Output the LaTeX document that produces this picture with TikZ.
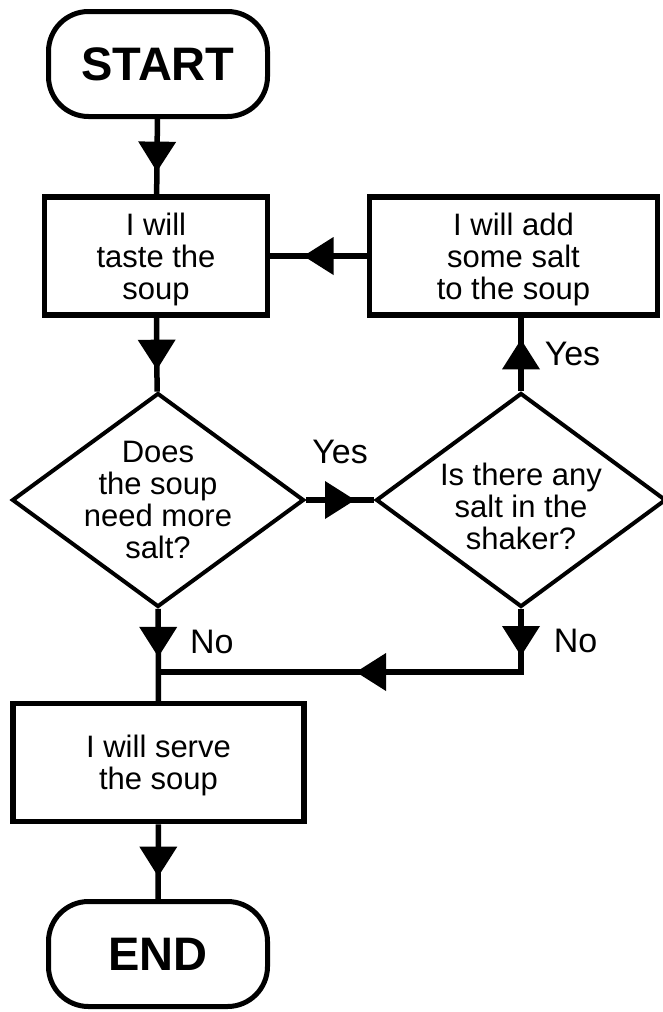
\documentclass[tikz,border=0pt]{standalone}
\usepackage{fontspec}
\setmainfont{Liberation Sans}
\usetikzlibrary{shapes.geometric,positioning,calc,decorations.markings}
\tikzset{
  term/.style ={rectangle, rounded corners=40pt, draw=black, line width=5pt,
                minimum width=219pt, minimum height=105pt, inner sep=0pt,
                text depth=0pt, font=\fontsize{47}{50}\selectfont\bfseries},
  box/.style  ={rectangle, draw=black, line width=5.5pt, minimum height=118pt,
                inner sep=0pt, align=center, text depth=0pt,
                font=\fontsize{31}{32}\selectfont},
  dec/.style  ={diamond, draw=black, line width=4pt, inner sep=0pt,
                minimum height=214pt},
  qtext/.style={align=center, inner sep=0pt, text depth=0pt,
                font=\fontsize{31}{32}\selectfont},
  tri/.style  ={postaction={decorate, decoration={markings,
                mark=at position #1 with {\fill[black] (-15pt,19pt) -- (15pt,0pt) -- (-15pt,-19pt) -- cycle;}}}},
  flow/.style ={draw=black, line width=5.5pt, tri=#1},
  flow/.default=0.5,
  lbl/.style  ={inner sep=0pt, font=\fontsize{34}{36}\selectfont}
}
\begin{document}
\begin{tikzpicture}[x=1pt, y=-1pt]
  \useasboundingbox (0,0) rectangle (662,1012);

  \node[term] (start) at (158,64) {START};
  \node[box, minimum width=223pt] (taste) at (156,256) {I will\\taste the\\soup};
  \node[box, minimum width=288pt] (salt) at (513.5,256) {I will add\\some salt\\to the soup};
  \node[dec, minimum width=292pt,
        label={[qtext]center:Does\\the soup\\need more\\salt?}] (need) at (158,500) {};
  \node[dec, minimum width=290pt,
        label={[qtext, yshift=-6pt]center:Is there any\\salt in the\\shaker?}] (shaker) at (521,500) {};
  \node[box, minimum width=291pt] (serve) at (158.5,762.5) {I will serve\\the soup};
  \node[term] (end) at (158,954) {END};

  \coordinate (bend) at (521,672);
  \coordinate (join) at (need.south |- bend);

  \draw[flow] (start) -- (taste);
  \draw[flow] (salt) -- (taste);
  \draw[flow] (taste) -- (need);
  \draw[flow] (need) -- node[lbl, above=33pt]{Yes} (shaker);
  \draw[flow] (shaker) -- node[lbl, right=21pt]{Yes} (shaker |- salt.south);
  \draw[flow=0.36] (need) -- node[lbl, pos=0.36, right=29pt]{No} (serve);
  \draw[flow=32pt, tri=0.5] (shaker) -- node[lbl, right=30pt]{No} (bend) -- (join);
  \draw[flow] (serve) -- (end);
\end{tikzpicture}
\end{document}
